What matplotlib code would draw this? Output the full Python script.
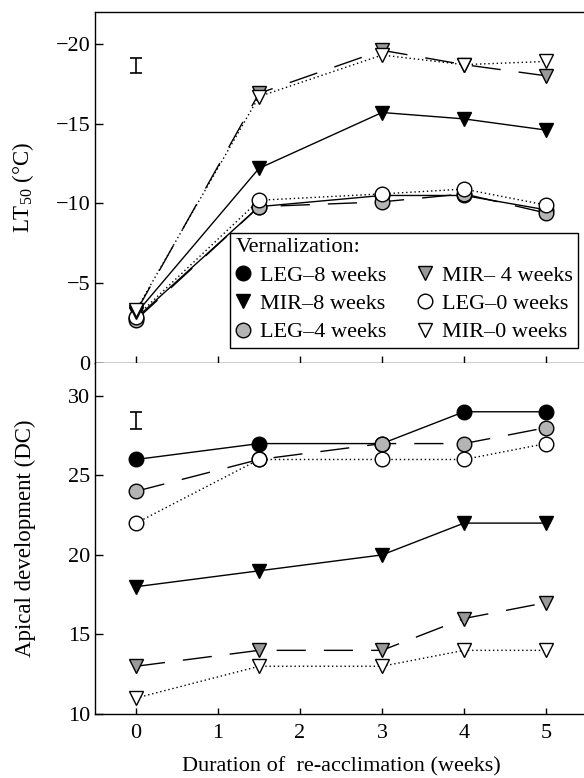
import numpy as np
import matplotlib
matplotlib.use("Agg")
import matplotlib.pyplot as plt

plt.rcParams['font.family'] = ['Liberation Serif', 'DejaVu Serif']
plt.rcParams['mathtext.fontset'] = 'custom'
plt.rcParams['mathtext.rm'] = 'Liberation Serif'

# re-acclimation duration (weeks)
weeks = [0, 1.5, 3, 4, 5]

# LT50 (deg C)
lt_leg8 = [-2.8, -9.8, -10.5, -10.5, -9.6]
lt_mir8 = [-3.1, -12.2, -15.7, -15.3, -14.6]
lt_leg4 = [-2.7, -9.8, -10.1, -10.6, -9.4]
lt_mir4 = [-3.2, -16.9, -19.6, -18.7, -18.0]
lt_leg0 = [-2.9, -10.2, -10.6, -10.9, -9.9]
lt_mir0 = [-3.3, -16.7, -19.3, -18.7, -18.9]

# apical development (DC)
dc_leg8 = [26, 27, 27, 29, 29]
dc_mir8 = [18, 19, 20, 22, 22]
dc_leg4 = [24, 26, 27, 27, 28]
dc_mir4 = [13, 14, 14, 16, 17]
dc_leg0 = [22, 26, 26, 26, 27]
dc_mir0 = [11, 13, 13, 14, 14]

# error bars drawn in the corner (centre, half width)
lt_err = (-18.65, 0.45)
dc_err = (28.45, 0.55)

labels = ['LEG–8 weeks', 'MIR–8 weeks', 'LEG–4 weeks',
          'MIR– 4 weeks', 'LEG–0 weeks', 'MIR–0 weeks']
gray = '#b4b4b4'
gray_tri = '#999999'
dash = (0, (21, 13))
dot = (0, (1, 2))
styles = [
    dict(marker='o', mfc='black', ls='-'),
    dict(marker='v', mfc='black', ls='-'),
    dict(marker='o', mfc=gray, ls=dash),
    dict(marker='v', mfc=gray_tri, ls=dash),
    dict(marker='o', mfc='white', ls=dot),
    dict(marker='v', mfc='white', ls=dot),
]

fig = plt.figure(figsize=(5.84, 7.78), dpi=100)
ax1 = fig.add_axes([0.1627, 0.5334, 0.8425, 0.4512])
ax2 = fig.add_axes([0.1627, 0.0823, 0.8425, 0.4512])

lt_series = [lt_leg8, lt_mir8, lt_leg4, lt_mir4, lt_leg0, lt_mir0]
dc_series = [dc_leg8, dc_mir8, dc_leg4, dc_mir4, dc_leg0, dc_mir0]
order = [0, 1, 2, 4, 3, 5]

for i in order:
    st = styles[i]
    for ax, ser in ((ax1, lt_series[i]), (ax2, dc_series[i])):
        ax.plot(weeks, ser, color='black', lw=1.0, ls=st['ls'],
                marker=st['marker'], ms=10.5, mfc=st['mfc'], mec='black',
                mew=1.0, label=labels[i])

ax1.errorbar([0], [lt_err[0]], yerr=[lt_err[1]], color='black', lw=1.2,
             capsize=4, capthick=1.2)
ax2.errorbar([0], [dc_err[0]], yerr=[dc_err[1]], color='black', lw=1.2,
             capsize=4, capthick=1.2)

for ax in (ax1, ax2):
    ax.set_xlim(-0.5, 5.5)
    ax.tick_params(direction='in', labelsize=16, width=1)
    ax.tick_params(axis='y', length=6)
    for s in ax.spines.values():
        s.set_linewidth(1.0)

# top panel
ax1.set_ylim(0, -22)
ax1.set_yticks([0, -5, -10, -15, -20])
ax1.set_xticks([0, 1, 2, 3, 4, 5])
ax1.tick_params(axis='x', direction='inout', length=10, labelbottom=False)
ax1.set_ylabel('LT$_{50}$ (°C)', fontsize=16.5)
ax1.yaxis.set_label_coords(-0.12, 0.5)

# bottom panel
ax2.set_ylim(10, 32.07)
ax2.set_yticks([10, 15, 20, 25, 30])
ax2.set_xticks([0, 1, 2, 3, 4, 5])
ax2.spines['top'].set_visible(False)
ax2.set_ylabel('Apical development (DC)', fontsize=16.5)
ax2.yaxis.set_label_coords(-0.12, 0.5)
ax2.set_xlabel('Duration of  re-acclimation (weeks)', fontsize=16, labelpad=10)
ax2.tick_params(axis='x', length=4.5, pad=7)

leg_handles = []
for i in range(6):
    st = styles[i]
    leg_handles.append(plt.Line2D([], [], ls='none', marker=st['marker'],
                                  ms=10.5, mfc=st['mfc'], mec='black', mew=1.0))
leg = ax1.legend(leg_handles, labels, ncol=2, loc='lower right',
                 bbox_to_anchor=(0.982, 0.043), title='Vernalization:',
                 fontsize=16, title_fontsize=16, frameon=True, fancybox=False,
                 edgecolor='black', framealpha=1, handlelength=0.7,
                 handletextpad=0.4, columnspacing=1.4, labelspacing=0.35,
                 borderpad=0.25, borderaxespad=0)
leg._legend_box.align = 'left'
leg.get_frame().set_linewidth(1.0)

fig.savefig('out.png', dpi=100)
